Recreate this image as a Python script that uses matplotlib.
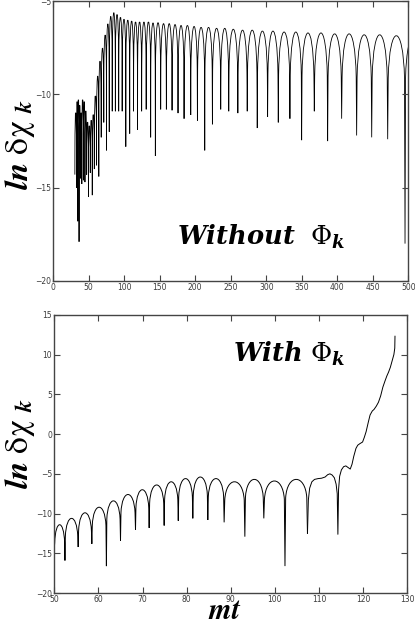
import matplotlib
matplotlib.use('Agg')
import matplotlib.pyplot as plt
from matplotlib.path import Path
from matplotlib.patches import PathPatch

plt.rcParams['mathtext.fontset'] = 'stix'

# top panel (without Phi_k): dips of the oscillation and the arch tops between them
top_dip_x = [30.6, 32.9, 34.6, 36.5, 38.4, 40.4, 42.6, 44.8, 47.2, 49.7,
             52.3, 55.1, 58.0, 61.1, 64.3, 67.7, 71.3, 75.1, 79.0, 83.2,
             87.6, 92.3, 97.2, 102.3, 107.8, 113.2, 118.8, 124.6, 131.0, 137.3,
             143.9, 151.4, 159.4, 167.4, 175.8, 184.3, 193.7, 203.1, 213.4, 224.2,
             235.9, 247.2, 260.0, 273.2, 287.3, 301.9, 316.9, 333.3, 349.8, 367.6,
             386.4, 406.1, 427.2, 448.4, 470.9, 495.3, 520.0]
top_dip_y = [-14.3, -15.0, -16.8, -17.9, -14.5, -14.8, -14.6, -14.7, -14.3, -15.5,
             -14.2, -15.4, -14.0, -13.8, -14.4, -12.3, -11.5, -13.0, -12.0, -10.9,
             -10.9, -10.9, -10.9, -12.8, -12.1, -10.9, -11.9, -10.9, -10.8, -12.3,
             -13.3, -10.8, -10.8, -10.85, -11.0, -11.3, -11.1, -11.4, -13.0, -11.6,
             -10.8, -10.9, -11.0, -10.9, -11.8, -11.2, -11.5, -11.3, -12.45, -10.9,
             -12.5, -11.3, -12.2, -12.3, -12.4, -18.0, -12.0]
top_peak_y = [-10.9, -10.3, -10.2, -10.5, -10.9, -10.2, -10.3, -10.8, -11.4, -11.6,
              -11.3, -11.0, -10.0, -9.0, -8.2, -7.5, -6.8, -6.2, -5.8, -5.6,
              -5.7, -5.85, -5.95, -6.0, -6.05, -6.1, -6.1, -6.1, -6.1, -6.15,
              -6.15, -6.2, -6.2, -6.25, -6.3, -6.3, -6.35, -6.4, -6.4, -6.45,
              -6.45, -6.5, -6.55, -6.55, -6.6, -6.6, -6.65, -6.65, -6.7, -6.7,
              -6.75, -6.75, -6.8, -6.8, -6.85, -6.85]

# bottom panel (with Phi_k)
bot_dip_x = [50.0, 52.4, 55.4, 58.5, 61.8, 65.0, 68.4, 71.5, 74.9, 78.1,
             81.4, 84.8, 88.5, 93.2, 97.5, 102.3, 107.4]
bot_dip_y = [-14.2, -15.9, -14.2, -13.8, -16.6, -13.4, -12.0, -11.8, -11.5, -10.9,
             -10.6, -10.8, -11.1, -12.9, -10.6, -16.6, -12.5]
bot_peak_y = [-11.4, -10.6, -9.9, -9.2, -8.4, -7.6, -7.0, -6.4, -6.0, -5.6,
              -5.4, -5.6, -6.0, -5.7, -5.9, -5.7]
bot_tail_x = [107.4, 107.6, 107.9, 108.4, 109.0, 109.8, 110.6, 111.4, 112.0, 112.5,
              113.0, 113.5, 113.9, 114.15, 114.3, 114.45, 114.7, 115.1, 115.6, 116.1,
              116.6, 117.1, 117.5, 117.9, 118.4, 118.8, 119.3, 119.9, 120.3, 120.7,
              121.2, 121.6, 122.1, 122.5, 123.0, 123.5, 124.0, 124.5, 125.0, 125.4,
              125.8, 126.2, 126.6, 127.0, 127.2, 127.25]
bot_tail_y = [-12.5, -8.3, -6.8, -6.0, -5.7, -5.6, -5.55, -5.4, -5.1, -5.0,
              -5.15, -5.5, -6.3, -7.5, -12.6, -7.0, -5.3, -4.5, -4.1, -4.0,
              -4.2, -4.4, -3.8, -2.8, -1.8, -1.4, -1.2, -1.0, -0.4, 0.3,
              1.5, 2.4, 2.9, 3.1, 3.5, 4.0, 4.8, 5.9, 6.7, 7.3,
              7.8, 8.4, 9.2, 10.0, 10.8, 12.3]


def arches(dx, dy, py):
    # each lobe: sharp spike down to the dip, rounded top at the peak value
    verts = [(dx[0], dy[0])]
    codes = [Path.MOVETO]
    for i in range(len(py)):
        xa, xb, p = dx[i], dx[i + 1], py[i]
        w = xb - xa
        verts += [(xa + 0.03 * w, p - 2.3),
                  (xa + 0.1 * w, p + 0.77), (xb - 0.1 * w, p + 0.77),
                  (xb - 0.03 * w, p - 2.3),
                  (xb, dy[i + 1])]
        codes += [Path.LINETO, Path.CURVE4, Path.CURVE4, Path.CURVE4, Path.LINETO]
    return Path(verts, codes)


def style(ax):
    ax.tick_params(direction='in', top=True, right=True, length=4, width=0.8,
                   labelsize=5.5, labelcolor='#3a3a3a', color='#444444', pad=1.5)
    for s in ax.spines.values():
        s.set_color('#444444')
        s.set_linewidth(1.0)


fig = plt.figure(figsize=(4.15, 6.27), dpi=100)

ax1 = fig.add_axes([0.128, 0.552, 0.856, 0.446])
ax1.add_patch(PathPatch(arches(top_dip_x, top_dip_y, top_peak_y),
                        fill=False, lw=0.6, edgecolor='black'))
ax1.set_xlim(0, 500)
ax1.set_ylim(-20, -5)
ax1.set_xticks(range(0, 501, 50))
ax1.set_yticks([-20, -15, -10, -5])
style(ax1)
ax1.text(0.35, 0.13, r'$\mathbfit{Without}\ \ \mathrm{Φ}_{\mathbfit{k}}$',
         transform=ax1.transAxes, fontsize=18.5, ha='left', va='baseline',
         math_fontfamily='dejavuserif')

ax2 = fig.add_axes([0.131, 0.054, 0.850, 0.444])
ax2.add_patch(PathPatch(arches(bot_dip_x, bot_dip_y, bot_peak_y),
                        fill=False, lw=0.7, edgecolor='black'))
ax2.plot(bot_tail_x, bot_tail_y, color='black', lw=0.7)
ax2.set_xlim(50, 130)
ax2.set_ylim(-20, 15)
ax2.set_xticks(range(50, 131, 10))
ax2.set_yticks(range(-20, 16, 5))
style(ax2)
ax2.text(0.505, 0.83, r'$\mathbfit{With}\ \mathrm{Φ}_{\mathbfit{k}}$',
         transform=ax2.transAxes, fontsize=18.5, ha='left', va='baseline',
         math_fontfamily='dejavuserif')

ylab = r'$\mathbfit{ln}\ \mathrm{δχ}\ _{\mathbfit{k}}$'
fig.text(0.049, 0.769, ylab, rotation=90, fontsize=24, ha='center', va='center')
fig.text(0.049, 0.293, ylab, rotation=90, fontsize=24, ha='center', va='center')
fig.text(0.542, 0.003, r'$\mathbfit{mt}$', fontsize=21, ha='center', va='bottom')

fig.savefig('out.png', dpi=100)
